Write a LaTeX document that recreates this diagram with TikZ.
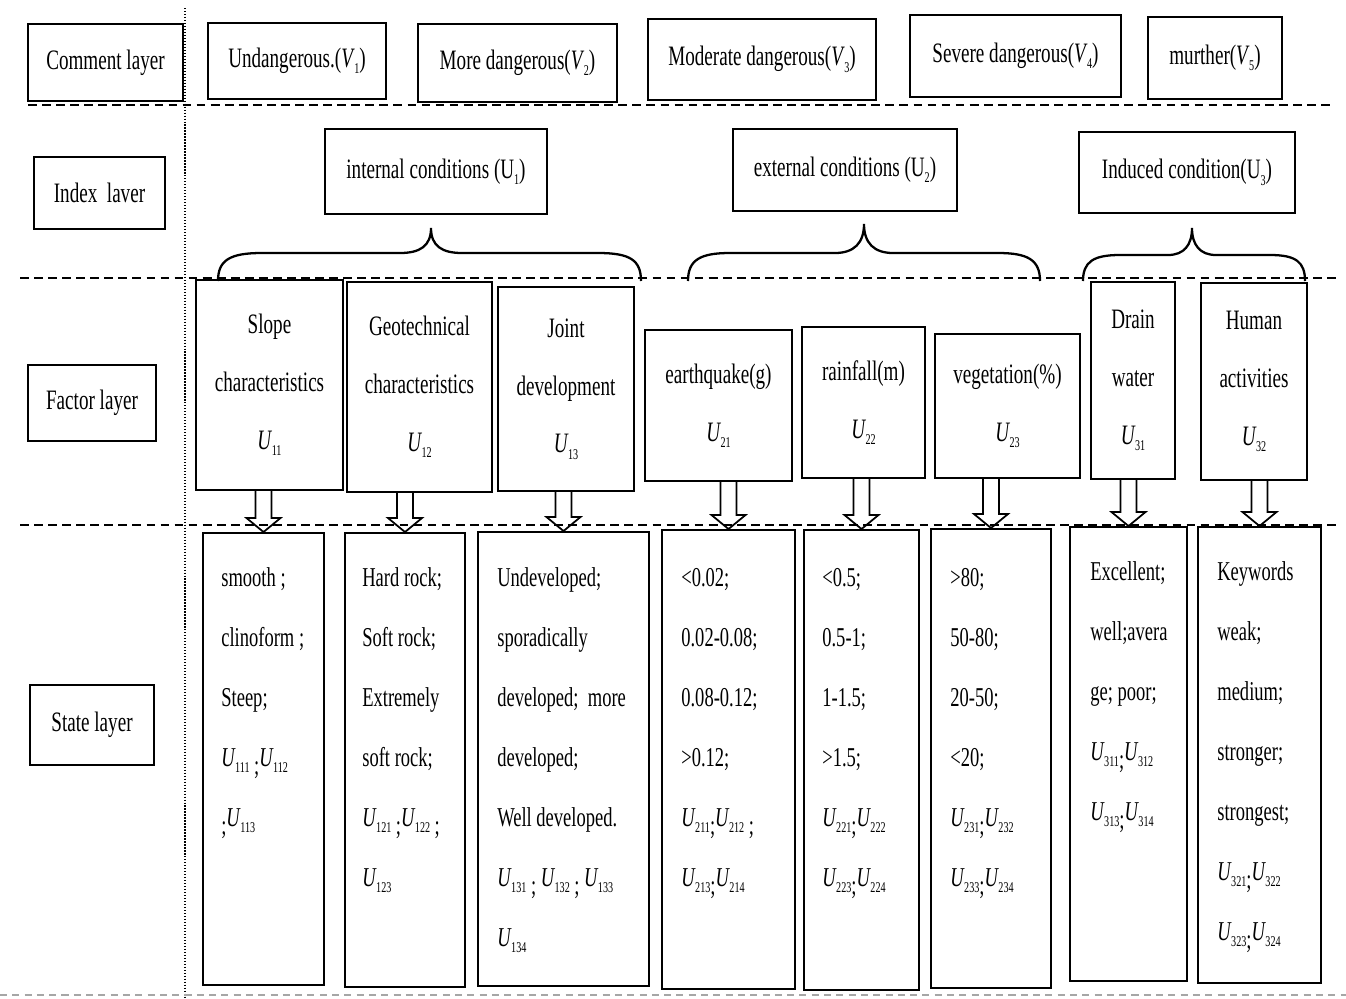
\documentclass[tikz,border=0pt]{standalone}
\usepackage{fontspec}
\setmainfont{Liberation Serif}[FakeStretch=0.68]
\usetikzlibrary{calc}
\newcommand\Us[1]{\textit{U}\kern-0.3pt\raisebox{-0.5ex}{\fontsize{8.5}{8.5}\selectfont #1}}
\newcommand\Vs[1]{\textit{V}\kern-0.3pt\raisebox{-0.5ex}{\fontsize{8.5}{8.5}\selectfont #1}}
\newcommand\Ur[1]{U\raisebox{-0.5ex}{\fontsize{8.5}{8.5}\selectfont #1}}
\newcommand\lsemi{\raisebox{-0.7ex}{;}}
\tikzset{
  box/.style={draw, line width=1.1pt, inner sep=0pt, align=center},
  lay/.style={font=\fontsize{16}{18}\selectfont},
  fac/.style={font=\fontsize{16}{33}\selectfont},
  st/.style={font=\fontsize{15.5}{17}\selectfont, inner sep=0pt},
  sep/.style={line width=1.6pt, dash pattern=on 5pt off 3pt},
  harr/.style={draw, line width=1pt, line join=miter},
  brc/.style={draw, line width=1.3pt},
}
\newcommand\bx[7][]{\pgfmathsetmacro\bw{(#5-#3)*0.02}\pgfmathsetmacro\bh{(#6-#4)*0.02}%
  \node[box,#1,minimum width=\bw cm, minimum height=\bh cm] (#2) at ({(#3+#5)/2},{(#4+#6)/2}) {#7};}
\newcommand\stlines[4]{\foreach \t [count=\i] in {#4} \node[st, anchor=base west] (#1-\i) at (#2, {#3+(\i-1)*60}) {\t};}
\newcommand\harrow[2]{\draw[harr] let \p1=(#2.north |- #1.south), \p2=(#2.north) in
  (\x1-4.5pt,\y1) -- (\x1-4.5pt,\y2+8pt) -- (\x1-9.7pt,\y2+8pt) -- (\x2,\y2) -- (\x1+9.7pt,\y2+8pt) -- (\x1+4.5pt,\y2+8pt) -- (\x1+4.5pt,\y1);}
\begin{document}
\begin{tikzpicture}[x=0.02cm, y=-0.02cm]
\fill[white] (0,0) rectangle (1346,998);
\useasboundingbox (0,0) rectangle (1346,998);
% separators
\draw[densely dotted, line width=0.7pt] (185,8) -- (185,998);
\draw[sep] (28,105) -- (1332,105);
\draw[sep] (20,278) -- (1340,278);
\draw[sep] (20,525) -- (1340,525);
\draw[gray!70, line width=0.8pt, dash pattern=on 4pt off 3pt] (0,995) -- (1346,995);
% layer labels
\bx[lay]{Lc}{28}{24}{183}{101}{\raisebox{-1ex}{Comment layer}}
\bx[lay]{Li}{34}{157}{165}{229}{\raisebox{-1ex}{Index\ \ laver}}
\bx[lay]{Lf}{28}{365}{156}{441}{Factor layer}
\bx[lay]{Ls}{30}{685}{154}{765}{State layer}
% comment layer
\bx[lay]{V1}{208}{23}{386}{99}{Undangerous.(\Vs{1})}
\bx[lay]{V2}{418}{24}{617}{102}{More dangerous(\Vs{2})}
\bx[lay]{V3}{648}{19}{876}{100}{\raisebox{-0.5ex}{Moderate dangerous(\Vs{3})}}
\bx[lay]{V4}{910}{15}{1121}{97}{Severe dangerous(\Vs{4})}
\bx[lay]{V5}{1148}{17}{1282}{99}{murther(\Vs{5})}
% index layer
\bx[lay]{I1}{325}{129}{547}{214}{internal conditions (\Ur{1})}
\bx[lay]{I2}{733}{129}{957}{211}{external conditions (\Ur{2})}
\bx[lay]{I3}{1079}{132}{1295}{213}{Induced condition(\Ur{3})}
% braces
\draw[brc] (218,281) .. controls (218,260) and (230,253) .. (262,253) -- (400,253)
  .. controls (420,253) and (431,246) .. (431,228)
  .. controls (431,246) and (442,253) .. (462,253) -- (598,253)
  .. controls (630,253) and (641,260) .. (641,281);
\draw[brc] (688,281) .. controls (688,260) and (700,253) .. (730,253) -- (835,253)
  .. controls (854,253) and (864,243) .. (864,224)
  .. controls (864,243) and (874,253) .. (893,253) -- (998,253)
  .. controls (1028,253) and (1040,260) .. (1040,281);
\draw[brc] (1083,281) .. controls (1083,262) and (1093,255) .. (1120,255) -- (1168,255)
  .. controls (1184,255) and (1192,245) .. (1192,228)
  .. controls (1192,245) and (1200,255) .. (1216,255) -- (1270,255)
  .. controls (1296,255) and (1305,262) .. (1305,281);
% factor layer
\bx[fac]{F11}{196}{280}{343}{490}{Slope\\characteristics\\\Us{11}}
\bx[fac]{F12}{347}{282}{492}{492}{Geotechnical\\characteristics\\\Us{12}}
\bx[fac]{F13}{498}{287}{634}{491}{Joint\\development\\\Us{13}}
\bx[fac]{F21}{645}{330}{792}{481}{earthquake(g)\\\Us{21}}
\bx[fac]{F22}{802}{327}{925}{478}{rainfall(m)\\\Us{22}}
\bx[fac]{F23}{935}{334}{1080}{478}{vegetation(\%)\\\Us{23}}
\bx[fac]{F31}{1091}{282}{1175}{479}{Drain\\water\\\Us{31}}
\bx[fac]{F32}{1201}{283}{1307}{480}{Human\\activities\\\Us{32}}
% state layer boxes
\bx{S11}{203}{533}{324}{985}{}
\bx{S12}{345}{533}{465}{987}{}
\bx{S13}{478}{532}{649}{986}{}
\bx{S21}{662}{530}{795}{989}{}
\bx{S22}{804}{530}{919}{990}{}
\bx{S23}{931}{529}{1051}{988}{}
\bx{S31}{1070}{527}{1187}{981}{}
\bx{S32}{1198}{527}{1321}{983}{}
% state texts
\stlines{t11}{221}{586}{smooth ;, clinoform ;, Steep;, \Us{111}\,\lsemi\Us{112}, \lsemi\Us{113}}
\stlines{t12}{362}{586}{Hard rock;, Soft rock;, Extremely, soft rock;, \Us{121}\,\lsemi\Us{122}\,\lsemi, \Us{123}}
\stlines{t13}{497}{586}{Undeveloped;, sporadically, developed;\ \ more, developed;, Well developed., \Us{131}\ \lsemi\,\Us{132}\ \lsemi\,\Us{133}, \Us{134}}
\stlines{t21}{681}{586}{<0.02;, 0.02-0.08;, 0.08-0.12;, >0.12;, \Us{211}\lsemi\Us{212}\,\lsemi, \Us{213}\lsemi\Us{214}}
\stlines{t22}{822}{586}{<0.5;, 0.5-1;, 1-1.5;, >1.5;, \Us{221}\lsemi\Us{222}, \Us{223}\lsemi\Us{224}}
\stlines{t23}{950}{586}{>80;, 50-80;, 20-50;, <20;, \Us{231}\lsemi\Us{232}, \Us{233}\lsemi\Us{234}}
\stlines{t31}{1090}{580}{Excellent;, well;avera, ge; poor;, \Us{311}\lsemi\Us{312}, \Us{313}\lsemi\Us{314}}
\stlines{t32}{1217}{580}{Keywords, weak;, medium;, stronger;, strongest;, \Us{321}\lsemi\Us{322}, \Us{323}\lsemi\Us{324}}
% arrows
\harrow{F11}{S11}
\harrow{F12}{S12}
\harrow{F13}{S13}
\harrow{F21}{S21}
\harrow{F22}{S22}
\harrow{F23}{S23}
\harrow{F31}{S31}
\harrow{F32}{S32}
\end{tikzpicture}
\end{document}
